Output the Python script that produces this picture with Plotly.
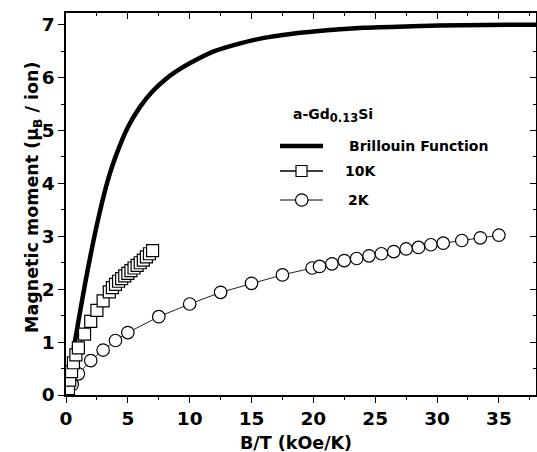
import plotly.graph_objects as go

# Brillouin function curve (B/T in kOe/K, moment in muB per Gd ion)
brillouin_x = [0, 0.5, 1.0, 1.5, 2.0, 2.5, 3.0, 3.5, 4.0, 5.0, 6.0, 7.0, 8.0, 9.0,
               10, 12, 14, 16, 18, 20, 24, 28, 32, 38]
brillouin_y = [0, 0.70, 1.39, 2.05, 2.66, 3.22, 3.72, 4.15, 4.50, 5.06, 5.45, 5.74,
               5.96, 6.13, 6.27, 6.50, 6.64, 6.75, 6.82, 6.87, 6.94, 6.97, 6.99, 7.0]

# 10 K measurement
t10_x = [0.2, 0.3, 0.45, 0.6, 0.8, 1.0, 1.5, 2.0, 2.5, 3.0, 3.5, 3.75, 4.0, 4.25,
         4.5, 4.75, 5.0, 5.25, 5.5, 5.75, 6.0, 6.25, 6.5, 6.75, 7.0]
t10_y = [0.12, 0.28, 0.44, 0.61, 0.76, 0.89, 1.15, 1.39, 1.60, 1.78, 1.95, 2.03,
         2.09, 2.15, 2.20, 2.25, 2.30, 2.35, 2.40, 2.45, 2.50, 2.55, 2.61, 2.67, 2.73]

# 2 K measurement
t2_x = [0.5, 1.0, 2.0, 3.0, 4.0, 5.0, 7.5, 10.0, 12.5, 15.0, 17.5, 19.9, 20.5,
        21.5, 22.5, 23.5, 24.5, 25.5, 26.5, 27.5, 28.5, 29.5, 30.5, 32.0, 33.5, 35.0]
t2_y = [0.20, 0.40, 0.65, 0.85, 1.03, 1.18, 1.48, 1.72, 1.94, 2.11, 2.27, 2.40,
        2.43, 2.48, 2.54, 2.58, 2.63, 2.67, 2.71, 2.76, 2.79, 2.84, 2.87, 2.92,
        2.97, 3.02]

x_range = [0, 38]
y_range = [0, 7.22]

FONT = "DejaVu Sans, Liberation Sans, Arial, sans-serif"

fig = go.Figure()

fig.add_trace(go.Scatter(
    x=brillouin_x, y=brillouin_y, mode="lines", name="Brillouin Function",
    line=dict(color="black", width=4.5, shape="spline", smoothing=0.8),
    showlegend=False))

fig.add_trace(go.Scatter(
    x=t2_x, y=t2_y, mode="lines+markers", name="2K",
    line=dict(color="#222", width=1),
    marker=dict(symbol="circle", size=12.5, color="white",
                line=dict(color="black", width=1.2)),
    showlegend=False))

fig.add_trace(go.Scatter(
    x=t10_x, y=t10_y, mode="lines+markers", name="10K",
    line=dict(color="black", width=1.2),
    marker=dict(symbol="square", size=12, color="white",
                line=dict(color="black", width=1.2)),
    showlegend=False))

# empty trace so the mirrored top/right axes get drawn
fig.add_trace(go.Scatter(x=[None], y=[None], xaxis="x2", yaxis="y2",
                         showlegend=False, hoverinfo="skip"))

tick_font = dict(family=FONT, size=18.5, color="black", weight="bold")
axis_common = dict(showline=True, linecolor="black", linewidth=1.5,
                   showgrid=False, zeroline=False, tickfont=tick_font,
                   tickcolor="black", tickwidth=1.3)

fig.update_layout(
    xaxis=dict(range=x_range, dtick=5, tick0=0, ticks="outside", ticklen=6,
               minor=dict(dtick=2.5, ticks="outside", ticklen=3.5,
                          tickcolor="black", tickwidth=1.3),
               **axis_common),
    yaxis=dict(range=y_range, dtick=1, tick0=0, ticks="outside", ticklen=6,
               minor=dict(dtick=0.5, ticks="outside", ticklen=3.5,
                          tickcolor="black", tickwidth=1.3),
               **axis_common),
    xaxis2=dict(range=x_range, overlaying="x", side="top", dtick=5, tick0=0,
                ticks="inside", ticklen=6, showticklabels=False,
                minor=dict(dtick=2.5, ticks="inside", ticklen=3.5,
                           tickcolor="black", tickwidth=1.3),
                **axis_common),
    yaxis2=dict(range=y_range, overlaying="y", side="right", dtick=1, tick0=0,
                ticks="inside", ticklen=6, showticklabels=False,
                minor=dict(dtick=0.5, ticks="inside", ticklen=3.5,
                           tickcolor="black", tickwidth=1.3),
                **axis_common),
    width=537, height=452,
    margin=dict(l=66, r=1, t=13, b=57),
    paper_bgcolor="white", plot_bgcolor="white",
    showlegend=False,
)

# pixel -> paper helpers for the title and key placement
X0, X1, Y0, Y1 = 66.0, 536.0, 13.0, 395.0


def px(x):
    return (x - X0) / (X1 - X0)


def py(y):
    return (Y1 - y) / (Y1 - Y0)


title_font = dict(family=FONT, size=17.5, color="black", weight="bold")

fig.add_annotation(xref="paper", yref="paper", x=px(296), y=py(443),
                   xanchor="center", yanchor="middle", showarrow=False,
                   text="B/T (kOe/K)", font=title_font)
fig.add_annotation(xref="paper", yref="paper", x=px(33), y=py(198),
                   xanchor="center", yanchor="middle", showarrow=False,
                   textangle=-90,
                   text="Magnetic moment (μ<sub>B</sub> / ion)", font=title_font)

key_font = dict(family=FONT, size=14, color="black", weight="bold")

fig.add_annotation(xref="paper", yref="paper", x=px(291), y=py(115),
                   xanchor="left", yanchor="middle", showarrow=False,
                   text="a-Gd<sub><span style=\"font-size:11.5px\">0.13</span></sub>Si",
                   font=key_font)

rows = [
    ("Brillouin Function", 146, 347, None, 4.5),
    ("10K", 171, 343, "rect", 1.5),
    ("2K", 200, 346, "circle", 1.0),
]
for label, yy, tx, sym, lw in rows:
    fig.add_shape(type="line", xref="paper", yref="paper",
                  x0=px(280), x1=px(323), y0=py(yy), y1=py(yy),
                  line=dict(color="black", width=lw))
    if sym == "rect":
        fig.add_shape(type="rect", xref="paper", yref="paper",
                      x0=px(296), x1=px(307), y0=py(yy + 5.5), y1=py(yy - 5.5),
                      fillcolor="white", line=dict(color="black", width=1.2))
    elif sym == "circle":
        fig.add_shape(type="circle", xref="paper", yref="paper",
                      x0=px(295.5), x1=px(308), y0=py(yy + 6.2), y1=py(yy - 6.2),
                      fillcolor="white", line=dict(color="black", width=1.2))
    fig.add_annotation(xref="paper", yref="paper", x=px(tx), y=py(yy),
                       xanchor="left", yanchor="middle", showarrow=False,
                       text=label, font=key_font)

fig.write_html("out.html")
